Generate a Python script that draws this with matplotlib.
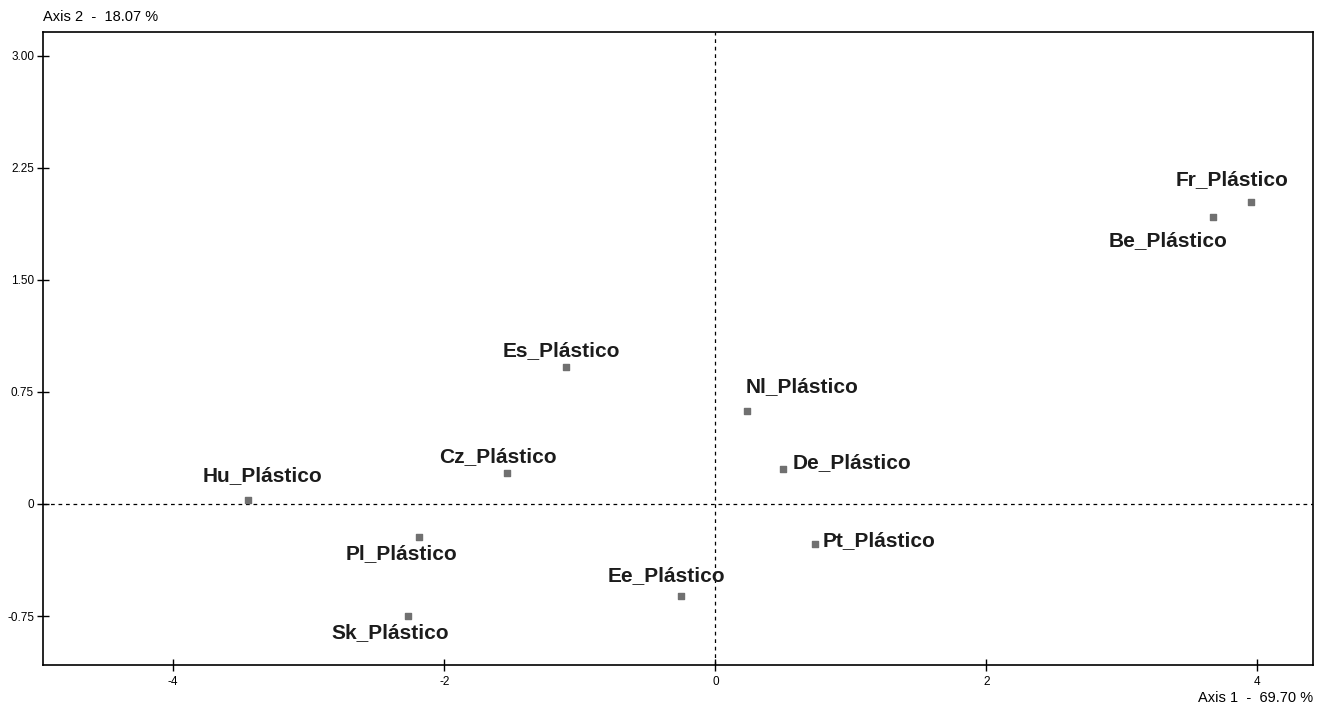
import numpy as np
import matplotlib.pyplot as plt

# factor scores (axis 1, axis 2)
names = ['Fr_Plástico', 'Be_Plástico', 'Es_Plástico', 'Nl_Plástico', 'De_Plástico',
         'Cz_Plástico', 'Hu_Plástico', 'Pl_Plástico', 'Pt_Plástico', 'Ee_Plástico',
         'Sk_Plástico']
axis1 = [3.95, 3.675, -1.10, 0.236, 0.502, -1.54, -3.45, -2.19, 0.738, -0.251, -2.266]
axis2 = [2.02, 1.92, 0.917, 0.623, 0.234, 0.208, 0.027, -0.221, -0.268, -0.616, -0.75]

xticks = [-4, -2, 0, 2, 4]
yticks = [-0.75, 0, 0.75, 1.5, 2.25, 3.0]
yticklabels = ['-0.75', '0', '0.75', '1.50', '2.25', '3.00']

# label placement: (dx, dy) in pixels, horizontal alignment
label_pos = {
    'Fr_Plástico': (-19, 23, 'center'),
    'Be_Plástico': (-45, -23, 'center'),
    'Es_Plástico': (-5, 16, 'center'),
    'Nl_Plástico': (-2, 24, 'left'),
    'De_Plástico': (9, 6, 'left'),
    'Cz_Plástico': (-9, 16, 'center'),
    'Hu_Plástico': (15, 24, 'center'),
    'Pl_Plástico': (-17, -17, 'center'),
    'Pt_Plástico': (7, 3, 'left'),
    'Ee_Plástico': (-15, 20, 'center'),
    'Sk_Plástico': (-18, -17, 'center'),
}

plt.rcParams['font.family'] = ['Liberation Sans', 'DejaVu Sans']

fig = plt.figure(figsize=(13.29, 7.11), dpi=100)
ax = fig.add_axes([0.0324, 0.0647, 0.9556, 0.8903])

ax.axhline(0, color='black', lw=0.9, ls=(0, (3, 3)))
ax.axvline(0, color='black', lw=0.9, ls=(0, (3, 3)))

ax.scatter(axis1, axis2, marker='s', s=22, color='#707070', zorder=3)

for n, x, y in zip(names, axis1, axis2):
    dx, dy, ha = label_pos[n]
    ax.annotate(n, (x, y), xytext=(dx, dy), textcoords='offset pixels',
                ha=ha, va='center', fontsize=15, fontweight='bold', color='#1c1c1c')

ax.set_xlim(-4.96, 4.41)
ax.set_ylim(-1.078, 3.16)
ax.set_xticks(xticks)
ax.set_xticklabels([str(t) for t in xticks])
ax.set_yticks(yticks)
ax.set_yticklabels(yticklabels)
ax.tick_params(direction='inout', length=8, width=1, labelsize=8.5)
ax.tick_params(axis='y', pad=2.5)
ax.tick_params(axis='x', pad=4)
for s in ax.spines.values():
    s.set_linewidth(1.2)

fig.text(0.0325, 0.976, 'Axis 2  -  18.07 %', fontsize=10.5, ha='left', va='center')
fig.text(0.988, 0.018, 'Axis 1  -  69.70 %', fontsize=10.5, ha='right', va='center')

fig.savefig('out.png', dpi=100)
